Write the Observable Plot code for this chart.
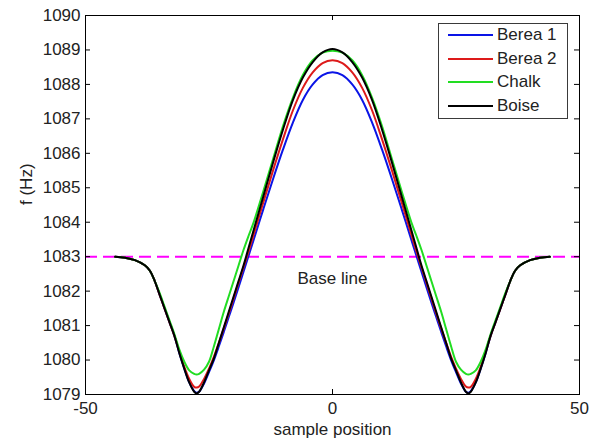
<!DOCTYPE html>
<html><head><meta charset="utf-8">
<script src="https://cdn.jsdelivr.net/npm/d3@7"></script>
<script src="https://cdn.jsdelivr.net/npm/@observablehq/plot@0.6"></script>
<style>
body{margin:0;background:#fff;}
#wrap{position:relative;width:597px;height:443px;font-family:"Liberation Sans",Arial,sans-serif;}
#legend{position:absolute;left:438px;top:23px;width:128px;height:94px;border:1px solid #3a3a3a;background:#fff;}
.row{position:absolute;left:0;height:24px;display:flex;align-items:center;}
.swatch{display:inline-block;margin-left:9px;width:45px;height:2px;}
.lab{display:inline-block;margin-left:4px;font-size:17px;color:#222;line-height:24px;}
</style></head><body><div id="wrap"></div>
<script>
const positions = [-44,-42,-40,-38,-37,-36,-35,-34,-33,-32,-31,-30,-29,-28,-27.5,-27,-26,-25,-24,-23,-22,-21,-20,-19,-18,-17,-16,-14,-12,-10,-8,-6,-4,-2,0,2,4,6,8,10,12,14,16,17,18,19,20,21,22,23,24,25,26,27,27.5,28,29,30,31,32,33,34,35,36,37,38,40,42,44];

const berea1 = [1083.0,1082.97,1082.9,1082.75,1082.6,1082.3,1081.9,1081.5,1081.1,1080.7,1080.2,1079.75,1079.35,1079.1,1079.05,1079.08,1079.32,1079.65,1080.0,1080.4,1080.82,1081.25,1081.68,1082.12,1082.57,1083.02,1083.47,1084.38,1085.27,1086.12,1086.9,1087.55,1088.0,1088.27,
1088.35,
1088.27,1088.0,1087.55,1086.9,1086.12,1085.27,1084.38,1083.47,1083.02,1082.57,1082.12,1081.68,1081.25,1080.82,1080.4,1080.0,1079.65,1079.32,1079.08,1079.05,1079.1,1079.35,1079.75,1080.2,1080.7,1081.1,1081.5,1081.9,1082.3,1082.6,1082.75,1082.9,1082.97,1083.0];

const berea2 = [1083.0,1082.97,1082.9,1082.75,1082.6,1082.3,1081.9,1081.5,1081.1,1080.7,1080.25,1079.8,1079.45,1079.22,1079.2,1079.23,1079.45,1079.75,1080.1,1080.5,1080.92,1081.35,1081.8,1082.25,1082.7,1083.15,1083.62,1084.58,1085.52,1086.42,1087.25,1087.9,1088.35,1088.62,
1088.7,
1088.62,1088.35,1087.9,1087.25,1086.42,1085.52,1084.58,1083.62,1083.15,1082.7,1082.25,1081.8,1081.35,1080.92,1080.5,1080.1,1079.75,1079.45,1079.23,1079.2,1079.22,1079.45,1079.8,1080.25,1080.7,1081.1,1081.5,1081.9,1082.3,1082.6,1082.75,1082.9,1082.97,1083.0];

const chalk = [1083.0,1082.97,1082.9,1082.75,1082.6,1082.3,1081.95,1081.55,1081.15,1080.75,1080.3,1079.95,1079.7,1079.6,1079.58,1079.6,1079.72,1079.95,1080.4,1080.9,1081.4,1081.85,1082.3,1082.75,1083.2,1083.6,1083.98,1084.9,1085.85,1086.8,1087.62,1088.27,1088.7,1088.92,
1088.98,
1088.92,1088.7,1088.27,1087.62,1086.8,1085.85,1084.9,1083.98,1083.6,1083.2,1082.75,1082.3,1081.85,1081.4,1080.9,1080.4,1079.95,1079.72,1079.6,1079.58,1079.6,1079.7,1079.95,1080.3,1080.75,1081.15,1081.55,1081.95,1082.3,1082.6,1082.75,1082.9,1082.97,1083.0];

const boise = [1083.0,1082.97,1082.9,1082.75,1082.6,1082.3,1081.9,1081.5,1081.1,1080.7,1080.2,1079.75,1079.35,1079.08,1079.03,1079.08,1079.35,1079.7,1080.05,1080.5,1080.95,1081.4,1081.85,1082.3,1082.75,1083.25,1083.75,1084.75,1085.75,1086.7,1087.55,1088.2,1088.65,1088.93,
1089.03,
1088.93,1088.65,1088.2,1087.55,1086.7,1085.75,1084.75,1083.75,1083.25,1082.75,1082.3,1081.85,1081.4,1080.95,1080.5,1080.05,1079.7,1079.35,1079.08,1079.03,1079.08,1079.35,1079.75,1080.2,1080.7,1081.1,1081.5,1081.9,1082.3,1082.6,1082.75,1082.9,1082.97,1083.0];

const seriesNames = ["Berea 1", "Berea 2", "Chalk", "Boise"];
const seriesValues = [berea1, berea2, chalk, boise];
const baseLine = 1083;
const baseLabel = "Base line";
const xTicks = [-50, 0, 50];
const yTicks = [1079,1080,1081,1082,1083,1084,1085,1086,1087,1088,1089,1090];
const xLabel = "sample position";
const yLabel = "f (Hz)";

const colors = ["#0a14e6", "#dd1a1a", "#22dd22", "#000000"];

const lineMarks = seriesNames.map((name, k) => {
  const rows = positions.map((x, i) => ({x, y: seriesValues[k][i], series: name}));
  return Plot.line(rows, {x: "x", y: "y", stroke: colors[k], strokeWidth: 2, curve: "catmull-rom"});
});

const fmt = d => String(d);

const plot = Plot.plot({
  width: 597, height: 443,
  marginLeft: 85, marginRight: 18, marginTop: 15, marginBottom: 49,
  x: {domain: [-50, 50]},
  y: {domain: [1079, 1090]},
  style: {fontFamily: "'Liberation Sans', Arial, sans-serif", fontSize: "17px", color: "#222", background: "white"},
  marks: [
    Plot.ruleY([baseLine], {stroke: "#ff00ff", strokeWidth: 2, strokeDasharray: "12,6"}),
    ...lineMarks,
    Plot.text([baseLabel], {x: 0, y: 1082.37, text: d => d, textAnchor: "middle", lineAnchor: "middle"}),
    Plot.frame({stroke: "black"}),
    Plot.tickY(yTicks, {y: d => d, insetRight: 489, stroke: "black"}),
    Plot.tickY(yTicks, {y: d => d, insetLeft: 489, stroke: "black"}),
    Plot.tickX(xTicks, {x: d => d, insetBottom: 374, stroke: "black"}),
    Plot.tickX(xTicks, {x: d => d, insetTop: 374, stroke: "black"}),
    Plot.axisY(yTicks, {tickSize: 0, tickPadding: 5, label: null, tickFormat: fmt}),
    Plot.axisX(xTicks, {tickSize: 0, tickPadding: 7, label: null, tickFormat: fmt}),
    Plot.text([yLabel], {frameAnchor: "left", rotate: -90, dx: -59, text: d => d, lineAnchor: "middle"}),
    Plot.text([xLabel], {frameAnchor: "bottom", lineAnchor: "top", dy: 28, text: d => d})
  ]
});

const wrap = document.getElementById("wrap");
wrap.appendChild(plot);

const legend = document.createElement("div");
legend.id = "legend";
seriesNames.forEach((name, k) => {
  const row = document.createElement("div");
  row.className = "row";
  row.style.top = (11 + k * 23.7 - 12) + "px";
  const sw = document.createElement("span");
  sw.className = "swatch";
  sw.style.background = colors[k];
  const lab = document.createElement("span");
  lab.className = "lab";
  lab.textContent = name;
  row.appendChild(sw);
  row.appendChild(lab);
  legend.appendChild(row);
});
wrap.appendChild(legend);
</script>
</body></html>
